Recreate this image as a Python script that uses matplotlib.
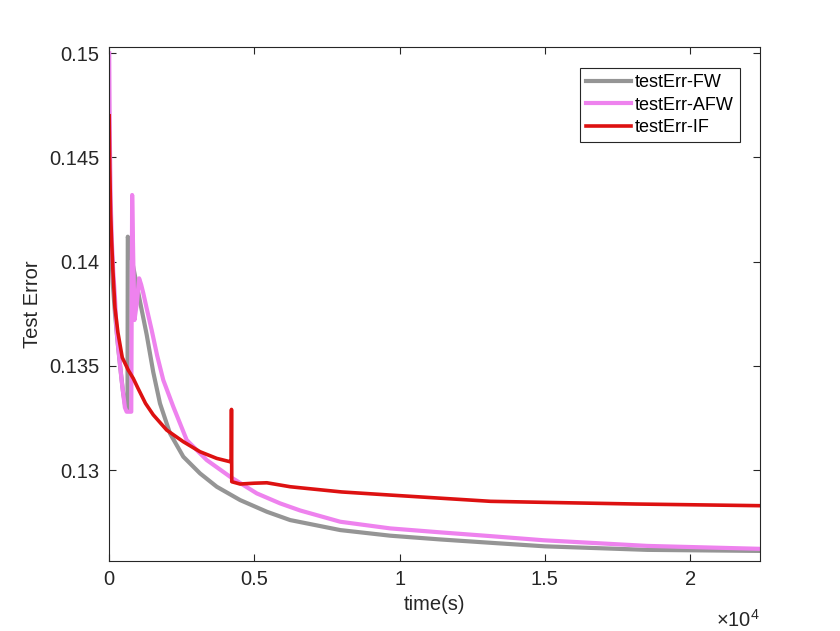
import matplotlib
matplotlib.use("Agg")
import matplotlib.pyplot as plt

plt.rcParams['font.family'] = ['Liberation Sans', 'DejaVu Sans']
plt.rcParams['mathtext.fontset'] = 'custom'
plt.rcParams['mathtext.rm'] = 'Liberation Sans'

# ---- data ----
fw_t = [0, 50, 120, 200, 300, 400, 480, 550, 600, 630, 640, 700, 820, 1059, 1290,
        1517, 1748, 2093, 2552, 3127, 3703, 4507, 5427, 6230, 7955, 9679, 11403,
        13127, 15000, 18531, 22414]
fw_v = [0.1428, 0.1410, 0.1390, 0.1375, 0.1360, 0.1347, 0.1337, 0.1331, 0.1329, 0.1329,
        0.1412, 0.1408, 0.1398, 0.1381, 0.1365, 0.1347, 0.1332, 0.13176,
        0.13064, 0.12984, 0.12920, 0.12856, 0.12800, 0.12760, 0.12712, 0.12685,
        0.12667, 0.12651, 0.12634, 0.12617, 0.12612]

afw_t = [0, 10, 25, 50, 90, 140, 197, 255, 310, 427, 541, 600, 760, 790, 830, 870, 950,
         1030, 1100, 1172, 1300, 1462, 1650, 1862, 2207, 2669, 3358, 4162, 5082, 5886,
         6575, 7955, 9679, 11403, 13127, 14966, 18531, 22414]
afw_v = [0.1500, 0.1480, 0.1455, 0.1430, 0.1410, 0.1395, 0.1383, 0.1367, 0.1359, 0.1343,
         0.1330, 0.1328, 0.1328, 0.1432, 0.1400, 0.1372, 0.1380, 0.1392, 0.1389, 0.1385,
         0.1377, 0.13672, 0.1355, 0.13432, 0.13304, 0.13144, 0.13048, 0.12968, 0.12888,
         0.12840, 0.12806, 0.12752, 0.12720, 0.12701, 0.12683, 0.12663, 0.12636, 0.12622]

if_t = [0, 20, 50, 83, 130, 197, 300, 450, 655, 828, 1000, 1250, 1517, 1979, 2552, 3127,
        3703, 4162, 4200, 4210, 4220, 4507, 5000, 5427, 6230, 6575, 8000, 9679, 13127,
        14966, 18154, 22414]
if_v = [0.1470, 0.1445, 0.1423, 0.1410, 0.1395, 0.1378, 0.1366, 0.1354, 0.1348, 0.1344,
        0.1339, 0.1332, 0.13265, 0.13192, 0.13136, 0.13088, 0.13056, 0.13040, 0.13038,
        0.13291, 0.12944, 0.12933, 0.12937, 0.12939, 0.12920, 0.12915, 0.12895,
        0.12880, 0.12850, 0.12845, 0.12837, 0.12829]

labels = ['testErr-FW', 'testErr-AFW', 'testErr-IF']
colors = ['#959595', '#EE82EE', '#DD1111']

xticks = [0, 5000, 10000, 15000, 20000]
xticklabels = ['0', '0.5', '1', '1.5', '2']
yticks = [0.13, 0.135, 0.14, 0.145, 0.15]
yticklabels = ['0.13', '0.135', '0.14', '0.145', '0.15']

fig = plt.figure(figsize=(8.4, 6.31), dpi=100)
ax = fig.add_axes([0.13, 0.1114, 0.775, 0.8137])

ax.plot(fw_t, fw_v, color=colors[0], lw=3.0, label=labels[0])
ax.plot(afw_t, afw_v, color=colors[1], lw=3.0, label=labels[1])
ax.plot(if_t, if_v, color=colors[2], lw=2.6, label=labels[2])

ax.set_xlim(0, 22414)
ax.set_ylim(0.12565, 0.15029)
ax.set_xticks(xticks)
ax.set_xticklabels(xticklabels)
ax.set_yticks(yticks)
ax.set_yticklabels(yticklabels)
ax.tick_params(direction='in', length=5, width=0.8, top=True, right=True,
               labelsize=14.5, colors='#262626', pad=7)
for s in ax.spines.values():
    s.set_linewidth(0.8)
    s.set_color('#262626')

ax.set_xlabel('time(s)', fontsize=14.5, color='#262626', labelpad=4)
ax.set_ylabel('Test Error', fontsize=14.5, color='#262626', labelpad=5)
ax.text(1.0, -0.1155, r'$\times\mathregular{10^{4}}$', transform=ax.transAxes,
        ha='right', va='center', fontsize=14.5, color='#262626')

leg = ax.legend(loc='upper right', bbox_to_anchor=(0.9693, 0.9597), fontsize=13,
                frameon=True, fancybox=False, edgecolor='#262626', framealpha=1,
                handlelength=2.5, handletextpad=0.2, borderpad=0.35, labelspacing=0.3,
                borderaxespad=0)
leg.get_frame().set_linewidth(0.8)

fig.savefig('out.png', dpi=100)
